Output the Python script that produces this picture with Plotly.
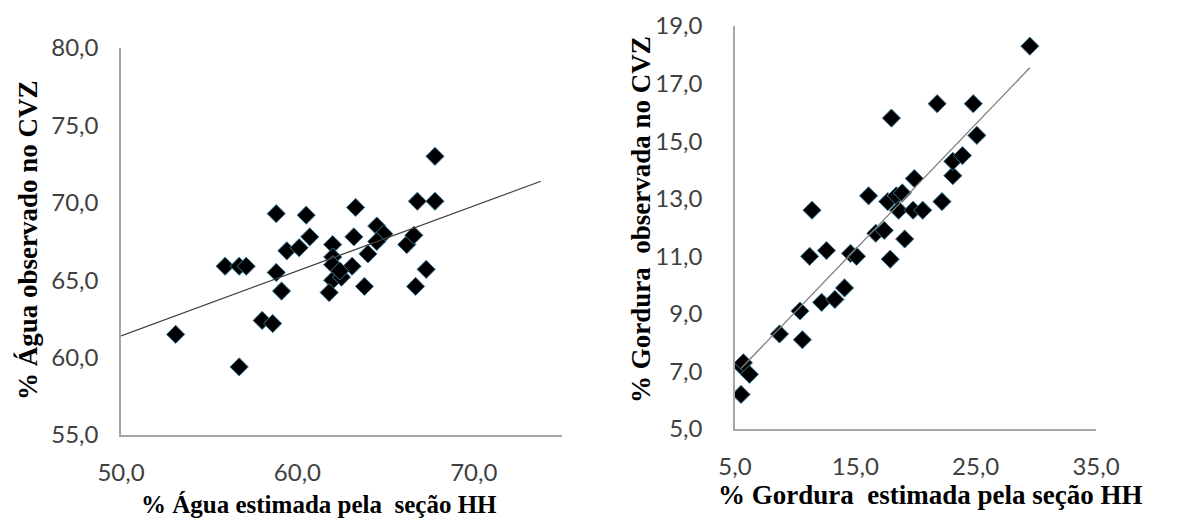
import numpy as np
import plotly.graph_objects as go

# Left chart: water (%)
agua_estimada = [53.1, 55.9, 56.7, 57.1, 56.7, 58.0, 58.6, 58.8, 58.8, 59.1, 59.4, 60.1,
                 60.5, 60.7, 62.0, 62.0, 62.0, 62.0, 61.8, 62.5, 63.1, 63.2, 63.3, 63.8,
                 64.0, 64.5, 64.9, 64.5, 66.2, 66.6, 66.8, 67.8, 67.8, 67.3, 66.7, 62.4]
agua_observada = [61.5, 65.9, 65.9, 65.9, 59.4, 62.4, 62.2, 69.3, 65.5, 64.3, 66.9, 67.1,
                  69.2, 67.8, 67.3, 66.5, 66.0, 65.0, 64.2, 65.2, 65.9, 67.8, 69.7, 64.6,
                  66.7, 68.5, 68.0, 67.5, 67.3, 67.9, 70.1, 70.1, 73.0, 65.7, 64.6, 65.6]
agua_trend_span = [50.0, 73.8]  # extent of the linear trendline (with forecast)

# Right chart: fat (%)
gord_estimada = [5.5, 5.5, 5.7, 6.2, 8.7, 10.6, 10.4, 12.2, 13.3, 14.1, 11.2, 12.6,
                 14.6, 15.1, 16.7, 17.4, 19.1, 17.9, 11.4, 16.1, 17.7, 18.4, 18.9, 18.6,
                 19.8, 20.6, 19.9, 22.2, 23.1, 23.1, 23.9, 25.1, 24.8, 21.8, 18.0, 29.5]
gord_observada = [6.2, 7.2, 7.3, 6.9, 8.3, 8.1, 9.1, 9.4, 9.5, 9.9, 11.0, 11.2,
                  11.1, 11.0, 11.8, 11.9, 11.6, 10.9, 12.6, 13.1, 12.9, 13.1, 13.2, 12.6,
                  12.6, 12.6, 13.7, 12.9, 13.8, 14.3, 14.5, 15.2, 16.3, 16.3, 15.8, 18.3]

agua_x_ticks = [50, 60, 70]
agua_y_ticks = [55, 60, 65, 70, 75, 80]
gord_x_ticks = [5, 15, 25, 35]
gord_y_ticks = [5, 7, 9, 11, 13, 15, 17, 19]
agua_x_range = [50, 75]
agua_y_range = [55, 80]
gord_x_range = [5, 35]
gord_y_range = [5, 19]

W, H = 1179, 523
OFF = 8  # page body margin
def px(x):
    return (x - OFF) / W
def py(y):
    return (H - (y - OFF)) / H

fig = go.Figure()

marker = dict(symbol="diamond", size=14, color="black",
              line=dict(color="#3d7a99", width=1))

fig.add_trace(go.Scatter(x=agua_estimada, y=agua_observada, mode="markers",
                         marker=marker, xaxis="x", yaxis="y", showlegend=False))
c1 = np.polyfit(agua_estimada, agua_observada, 1)
tx1 = np.array(agua_trend_span, dtype=float)
fig.add_trace(go.Scatter(x=tx1, y=np.polyval(c1, tx1), mode="lines",
                         line=dict(color="#404040", width=1.3), xaxis="x", yaxis="y",
                         showlegend=False, hoverinfo="skip"))

fig.add_trace(go.Scatter(x=gord_estimada, y=gord_observada, mode="markers",
                         marker=marker, xaxis="x2", yaxis="y2", showlegend=False))
c2 = np.polyfit(gord_estimada, gord_observada, 1)
tx2 = np.array([min(gord_estimada), max(gord_estimada)])
fig.add_trace(go.Scatter(x=tx2, y=np.polyval(c2, tx2), mode="lines",
                         line=dict(color="#7f7f7f", width=1.3), xaxis="x2", yaxis="y2",
                         showlegend=False, hoverinfo="skip"))

tickfont = dict(family="Lato, Open Sans, sans-serif", size=24, color="#404040")
axis_common = dict(showgrid=False, zeroline=False, showline=True, linecolor="#a6a6a6",
                   linewidth=1.5, ticks="", tickfont=tickfont, tickformat=".1f",
                   automargin=False, tickmode="array")

fig.update_layout(
    width=W, height=H,
    margin=dict(l=0, r=0, t=0, b=0),
    paper_bgcolor="white", plot_bgcolor="white",
    separators=",.",
    xaxis=dict(domain=[px(121), px(562)], range=agua_x_range, tickvals=agua_x_ticks,
               anchor="y", ticklabelstandoff=15, **axis_common),
    yaxis=dict(domain=[py(435), py(48)], range=agua_y_range, tickvals=agua_y_ticks,
               anchor="x", ticklabelstandoff=16, **axis_common),
    xaxis2=dict(domain=[px(735), px(1096)], range=gord_x_range, tickvals=gord_x_ticks,
                anchor="y2", ticklabelstandoff=15, **axis_common),
    yaxis2=dict(domain=[py(429), py(26)], range=gord_y_range, tickvals=gord_y_ticks,
                anchor="x2", ticklabelstandoff=26, **axis_common),
)

titlefont = dict(family="Liberation Serif, Times New Roman, serif", size=26, color="black")
anns = [
    dict(text="<b>% Água estimada pela \u00a0seção HH</b>", x=px(319), y=py(504), size=25),
    dict(text="<b>% Gordura \u00a0estimada pela seção HH</b>", x=px(930), y=py(495), size=27),
    dict(text="<b>% Água observado no CVZ</b>", x=px(28), y=py(240), textangle=-90, size=27),
    dict(text="<b>% Gordura \u00a0observada no CVZ</b>", x=px(641), y=py(220), textangle=-90, size=27),
]
for a in anns:
    s = a.pop("size")
    fig.add_annotation(xref="paper", yref="paper", showarrow=False,
                       font=dict(titlefont, size=s),
                       xanchor="center", yanchor="middle", **a)

fig.write_html("out.html")
